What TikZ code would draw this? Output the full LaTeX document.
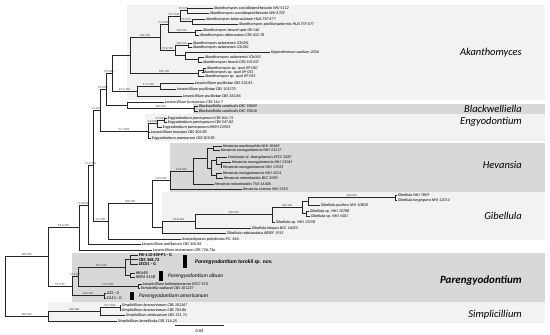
\documentclass[tikz,border=0pt]{standalone}
\usepackage{fontspec}
\setmainfont{Carlito}
\definecolor{lbox}{RGB}{242,242,242}
\definecolor{dbox}{RGB}{216,216,216}
\newcommand\fleaf{\fontsize{4.1}{4.5}\selectfont\itshape}
\newcommand\fleafu{\fontsize{4.3}{4.5}\selectfont}
\newcommand\fleafb{\fontsize{4.5}{4.6}\selectfont\bfseries}
\newcommand\fsv{\fontsize{3}{3}\selectfont}
\newcommand\fgrp{\fontsize{10.5}{11}\selectfont\itshape}
\newcommand\tint[3]{\coordinate (#1) at (#2,#3);}
\newcommand\tleaf[5][lab]{\coordinate (#2) at (#3,#4); \node[#1] (#2t) at (#3,#4) {#5};}
\newcommand\tedge[3]{\draw[br] (#1) |- (#2) node[sv,pos=0.75,above]{#3};}
\newcommand\tline[2]{\draw[br] (#1) |- (#2);}
\begin{document}
\begin{tikzpicture}[x=1pt,y=-1pt,
 br/.style={line width=0.7pt,draw=black!85},
 lab/.style={font=\fleaf,anchor=west,inner sep=0.6pt},
 labu/.style={font=\fleafu,anchor=west,inner sep=0.6pt},
 labb/.style={font=\fleafb,anchor=west,inner sep=0.6pt},
 sv/.style={font=\fsv,text=black!75,inner sep=0.3pt},
 grp/.style={font=\fgrp,anchor=east,inner sep=0pt},
]
\useasboundingbox (0,0) rectangle (550,335);
% clade boxes
\fill[lbox] (127,5) rectangle (545,100);
\fill[dbox] (193,104) rectangle (545,114);
\fill[lbox] (145,114) rectangle (545,141);
\fill[dbox] (170,143) rectangle (545,192);
\fill[lbox] (162,192) rectangle (545,240);
\fill[dbox] (72,253) rectangle (545,302);
\fill[lbox] (48,302) rectangle (545,323);
% group labels
\node[grp] (gAk) at (522,53) {Akanthomyces};
\node[grp] (gBw) at (522,109) {Blackwelliella};
\node[grp] (gEn) at (522,122) {Engyodontium};
\node[grp] (gHe) at (522,165) {Hevansia};
\node[grp] (gGi) at (522,216) {Gibellula};
\node[grp,font=\fontsize{11}{12}\selectfont\bfseries\itshape] (gPa) at (522,281) {Parengyodontium};
\node[grp] (gSi) at (522,315) {Simplicillium};
% internal nodes
\tint{R}{5}{286.4}
\tint{ING}{48}{256.7}
\tint{UP}{79}{227.5}
\tint{B}{88}{204.9}
\tint{C}{93}{165.7}
\tint{U}{100}{110}
\tint{V}{106}{89}
\tint{Vi}{112}{73.1}
\tint{W}{130}{55.25}
\tint{A}{160}{37.25}
\tint{Ai}{168}{24}
\tint{Aab}{180}{16}
\tint{Aa}{187}{10.5}
\tint{Ab}{192}{21.5}
\tint{Ac}{195}{32.5}
\tint{Aii}{175}{50.5}
\tint{Aiia}{188}{45.25}
\tint{Aiib}{185}{55.75}
\tint{Aiic}{198}{59.5}
\tint{S}{198}{73.25}
\tint{Sp}{203}{70}
\tint{P}{137}{91}
\tint{Pp}{160}{86}
\tint{X}{127}{105}
\tint{Bw}{194}{108.5}
\tint{Eng}{148}{131}
\tint{Ei}{157}{123.6}
\tint{Eia}{164}{120.25}
\tint{D}{108}{221.4}
\tint{E}{152}{203.6}
\tint{H}{170}{180}
\tint{Hi}{193}{171}
\tint{Hii}{207}{158.1}
\tint{Hp}{213}{148.25}
\tint{Hiii}{211}{168.1}
\tint{Hiv}{216}{160.75}
\tint{Hivb}{221}{164.5}
\tint{Hv}{216}{175.5}
\tint{Gi}{162}{227.1}
\tint{G}{195}{221.25}
\tint{Gii}{272}{214.5}
\tint{Giii}{302}{207.4}
\tint{Giv}{308}{201.25}
\tint{Gv}{395}{197.5}
\tint{Gp}{306}{213.5}
\tint{PAR}{72}{286}
\tint{PA}{78}{276.6}
\tint{PT}{125}{267.4}
\tint{PK}{138}{286.25}
\tint{Ptor}{130}{259.5}
\tint{Palb}{130}{275.25}
\tint{AZ}{104}{295.5}
\tint{SIM}{48}{316.1}
\tint{Sa}{100}{311.25}
\tint{Sb}{120}{307.5}
% leaves
\tleaf{L5112}{213}{8}{Akanthomyces coccidioperitheciata NHJ 5112}
\tleaf{L6709}{209}{13}{Akanthomyces coccidioperitheciata NHJ 6709}
\tleaf{Ltub}{205}{19}{Akanthomyces tuberculatum HUA TSF 677}
\tleaf{Lpist}{238}{24}{Akanthomyces pistillariaeformis HUA TSF 677}
\tleaf{Lsp146}{202}{30}{Akanthomyces lecanii spat 08-146}
\tleaf{Latt}{199}{35}{Akanthomyces attenuatum CBS 402.78}
\tleaf{Lsab1}{192}{43}{Akanthomyces sabanensis JCh001}
\tleaf{Lsab2}{192}{47.5}{Akanthomyces sabanensis JCh26C}
\tleaf{Lhyp}{270}{52}{Hyperdermium caulium 2056}
\tleaf{Lsab3}{204}{57}{Akanthomyces sabanensis JCh045}
\tleaf{Llec}{202}{62}{Akanthomyces lecanii CBS 101247}
\tleaf{Ls050}{206}{68}{Akanthomyces sp. spat 09-050}
\tleaf{Ls051}{202}{72}{Akanthomyces sp. spat 09-051}
\tleaf{Ls052}{204}{76.5}{Akanthomyces sp. spat 09-052}
\tleaf{Lps1}{194}{83}{Lecanicillium psalliotae CBS 532.81}
\tleaf{Lps2}{176}{89}{Lecanicillium psalliotae CBS 101270}
\tleaf{Lps3}{182}{96}{Lecanicillium psalliotae CBS 363.86}
\tleaf{Lfus}{164}{102}{Lecanicillium fusisporum CBS 164.7}
\tleaf{Lbw1}{198}{106}{Blackwelliella cardinalis DSC 93609}
\tleaf{Lbw2}{198}{111}{Blackwelliella cardinalis DSC 93610}
\tleaf{Lpar1}{167}{118}{Engyodontium parvisporum CBS 641.74}
\tleaf{Lpar2}{167}{122.5}{Engyodontium parvisporum CBS 547.82}
\tleaf{Lpar3}{162}{127}{Engyodontium parvisporum IHEM 22903}
\tleaf{Lten}{150}{132.5}{Lecanicillium tenuipes CBS 309.85}
\tleaf{Lara}{151}{138}{Engyodontium aranearum CBS 309.85}
\tleaf{Lhar}{222}{146}{Hevansia arachnophila NHJ 10469}
\tleaf{Lnv1}{220}{150.5}{Hevansia novoguineensis NHJ 13117}
\tleaf{Lcor}{227}{157}{Cordyceps cf. zhangdaensis EFCC 5287}
\tleaf{Lnv2}{231}{162}{Hevansia novoguineensis NHJ 13161}
\tleaf{Lnv3}{222}{167}{Hevansia novoguineensis NHJ 11923}
\tleaf{Lnv4}{222}{173}{Hevansia novoguineensis NHJ 4314}
\tleaf{Lbcc}{223}{178}{Hevansia nelumboides BCC 2093}
\tleaf{Ltns}{214}{184}{Hevansia nelumboides TNS 16306}
\tleaf{Lcin}{242}{189}{Hevansia cinerea NHJ 3510}
\tleaf{L7859}{397}{195}{Gibellula NHJ 7859}
\tleaf{Llon}{397}{200}{Gibellula longispora NHJ 12014}
\tleaf{Lpul}{320}{205}{Gibellula pulchra NHJ 10808}
\tleaf{L10788}{309}{211}{Gibellula sp. NHJ 10788}
\tleaf{L5401}{310}{216}{Gibellula sp. NHJ 5401}
\tleaf{L13158}{275}{222}{Gibellula sp. NHJ 13158}
\tleaf{Llei}{251}{228}{Gibellula leiopus BCC 16025}
\tleaf{Lrat}{226}{233}{Gibellula ratticaudata ARSEF 1915}
\tleaf{Lasc}{181}{239}{Ascopolyporus polychrous P.C. 546}
\tleaf{Lant}{141}{244}{Lecanicillium antillanum CBS 350.85}
\tleaf{Lran}{152}{250}{Lecanicillium araneorum CBS 726.73a}
\tleaf[labb]{Lfj}{138}{255}{FJII-L10-SW-P1 - G}
\tleaf[labb]{Lcbs}{138}{259.5}{CBS 368.72}
\tleaf[labb]{Lle1}{138}{264}{LEC01 - G}
\tleaf[labu]{Lhku}{135}{273}{HKU48}
\tleaf[labu]{Lihe}{135}{277.5}{IHEM 4158}
\tleaf{Lkal}{142}{284}{Lecanicillium kalimantanense BTCC-F23}
\tleaf{Ltor}{140}{288.5}{Torrubiella wallacei CBS 101237}
\tleaf[labu]{Laz}{106}{293}{AZ2 - G}
\tleaf[labu]{Lca}{106}{298}{CA11 - G}
\tleaf{Lla1}{121}{305}{Simplicillium lanosoniveum CBS 101267}
\tleaf{Lla2}{121}{310}{Simplicillium lanosoniveum CBS 704.86}
\tleaf{Lobc}{125}{315}{Simplicillium obclavatum CBS 311.74}
\tleaf{Llam}{117}{321}{Simplicillium lamellicola CBS 116.25}
% branches
\tedge{R}{ING}{100/100}
\tedge{R}{SIM}{100/100}
\tedge{ING}{UP}{96.4/100}
\tedge{ING}{PAR}{95.7/76}
\tedge{UP}{B}{91.8/96}
\tline{UP}{Lran}
\tedge{B}{C}{77.5/100}
\tline{B}{Lant}
\tedge{C}{U}{54.3/55}
\tedge{C}{D}{94.7/85}
\tedge{U}{V}{95.4/64}
\tedge{U}{Eng}{97.1/100}
\tedge{V}{Vi}{53.4/80}
\tline{V}{X}
\tline{Vi}{W}
\tedge{Vi}{P}{99.1/100}
\tedge{W}{A}{100/100}
\tedge{W}{S}{100/100}
\tedge{A}{Ai}{97.4/100}
\tedge{A}{Aii}{99.8/100}
\tedge{Ai}{Aab}{99.7/100}
\tedge{Ai}{Ac}{100/100}
\tedge{Aab}{Aa}{99.7/95}
\tedge{Aab}{Ab}{99.9/99}
\tline{Aa}{L5112}
\tline{Aa}{L6709}
\tline{Ab}{Ltub}
\tline{Ab}{Lpist}
\tline{Ac}{Lsp146}
\tline{Ac}{Latt}
\tedge{Aii}{Aiia}{100/100}
\tline{Aii}{Aiib}
\tline{Aiia}{Lsab1}
\tline{Aiia}{Lsab2}
\tline{Aiib}{Lhyp}
\tline{Aiib}{Aiic}
\tline{Aiic}{Lsab3}
\tline{Aiic}{Llec}
\tline{S}{Sp}
\tline{S}{Ls052}
\tline{Sp}{Ls050}
\tline{Sp}{Ls051}
\tedge{P}{Pp}{97.1/100}
\tline{P}{Lps3}
\tline{Pp}{Lps1}
\tline{Pp}{Lps2}
\tline{X}{Lfus}
\tedge{X}{Bw}{100/100}
\tline{Bw}{Lbw1}
\tline{Bw}{Lbw2}
\tedge{Eng}{Ei}{93.0/98}
\tline{Eng}{Lten}
\tline{Eng}{Lara}
\tedge{Ei}{Eia}{91.5/95}
\tline{Ei}{Lpar3}
\tline{Eia}{Lpar1}
\tline{Eia}{Lpar2}
\tedge{D}{E}{100/100}
\tline{D}{Lasc}
\tedge{E}{H}{94.9/100}
\tline{E}{Gi}
\tedge{H}{Hi}{99.8/100}
\tline{H}{Lcin}
\tline{Hi}{Hii}
\tline{Hi}{Ltns}
\tline{Hii}{Hp}
\tline{Hii}{Hiii}
\tline{Hp}{Lhar}
\tline{Hp}{Lnv1}
\tline{Hiii}{Hiv}
\tline{Hiii}{Hv}
\tline{Hiv}{Lcor}
\tline{Hiv}{Hivb}
\tline{Hivb}{Lnv2}
\tline{Hivb}{Lnv3}
\tline{Hv}{Lnv4}
\tline{Hv}{Lbcc}
\tedge{Gi}{G}{99.8/100}
\tline{Gi}{Lrat}
\tedge{G}{Gii}{100/100}
\tline{G}{Llei}
\tedge{Gii}{Giii}{100/100}
\tline{Gii}{L13158}
\tline{Giii}{Giv}
\tline{Giii}{Gp}
\tedge{Giv}{Gv}{100/100}
\tline{Giv}{Lpul}
\tline{Gv}{L7859}
\tline{Gv}{Llon}
\tline{Gp}{L10788}
\tline{Gp}{L5401}
\tedge{PAR}{PA}{51.6/62}
\tedge{PAR}{AZ}{100/100}
\tedge{PA}{PT}{90.6/100}
\tedge{PA}{PK}{99.7/100}
\tline{PT}{Ptor}
\tline{PT}{Palb}
\tline{Ptor}{Lfj}
\tline{Ptor}{Lcbs}
\tline{Ptor}{Lle1}
\tline{Palb}{Lhku}
\tline{Palb}{Lihe}
\tline{PK}{Lkal}
\tline{PK}{Ltor}
\tline{AZ}{Laz}
\tline{AZ}{Lca}
\tedge{SIM}{Sa}{100/100}
\tline{SIM}{Llam}
\tedge{Sa}{Sb}{99.1/100}
\tline{Sa}{Lobc}
\tline{Sb}{Lla1}
\tline{Sb}{Lla2}
% species bars and names
\fill[black] (183,255) rectangle (187,268);
\node[font=\fontsize{5.6}{6}\selectfont\bfseries\itshape,anchor=west,inner sep=0pt] (ntor) at (195,262) {Parengyodontium torokii sp. nov.};
\fill[black] (159,271) rectangle (162.5,281);
\node[font=\fontsize{5.5}{6}\selectfont\itshape,anchor=west,inner sep=0pt] (nalb) at (168,276) {Parengyodontium album};
\fill[black] (130,291.5) rectangle (133.5,300);
\node[font=\fontsize{5.5}{6}\selectfont\itshape,anchor=west,inner sep=0pt] (name) at (139,296) {Parengyodontium americanum};
% scale bar
\coordinate (sb1) at (175,325);
\coordinate (sb2) at (224,325);
\draw[br] (sb1) -- (sb2);
\node[font=\fontsize{4.5}{5}\selectfont,inner sep=0pt] (sbl) at (199.5,331) {0.04};
\end{tikzpicture}
\end{document}
